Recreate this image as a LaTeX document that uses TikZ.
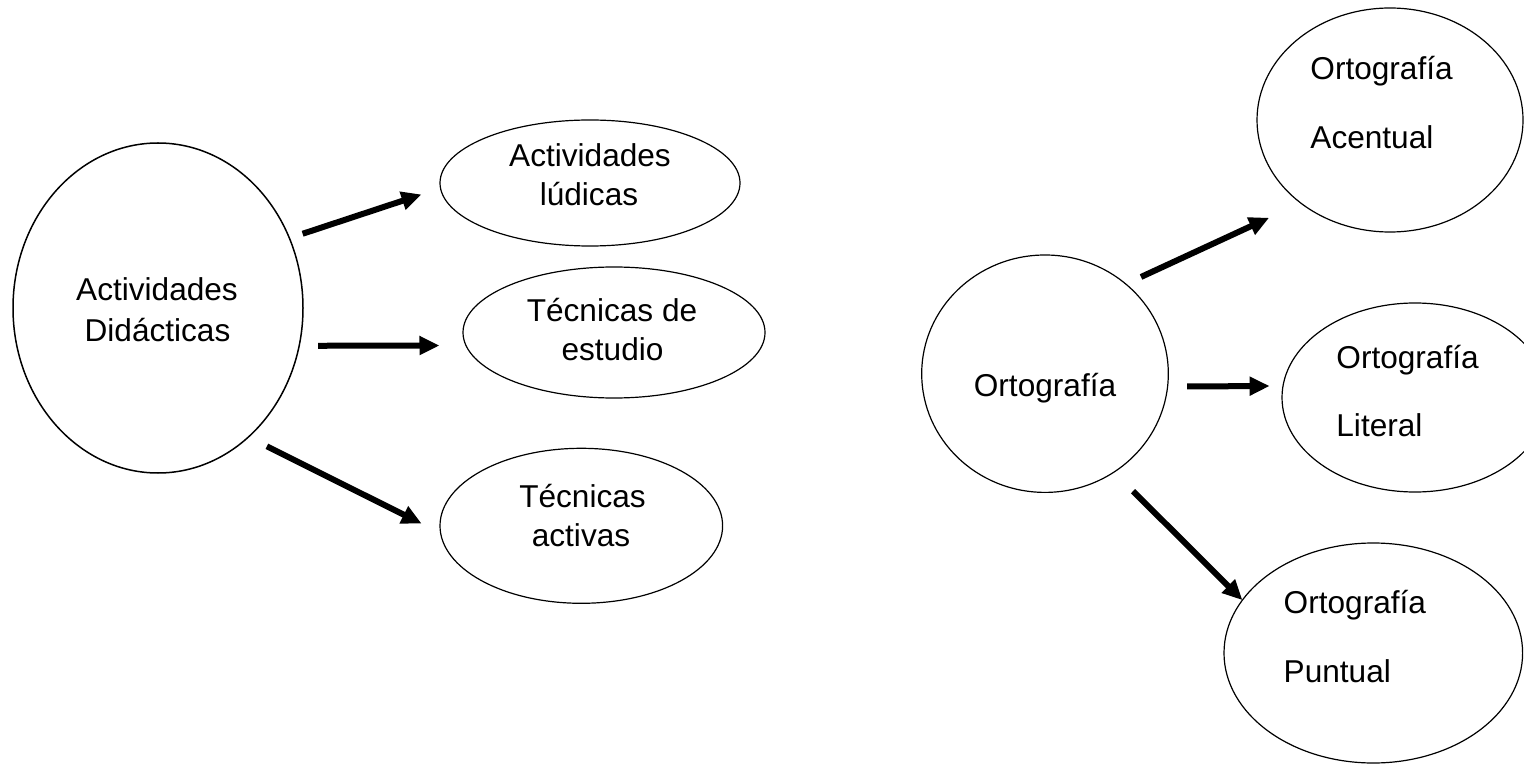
\documentclass[tikz,border=0pt]{standalone}
\usepackage{fontspec}
\setmainfont{Liberation Sans}
\usetikzlibrary{shapes.geometric,arrows.meta}
\begin{document}
\begin{tikzpicture}[x=0.5pt,y=-0.5pt,
  oval/.style={ellipse, draw, line width=0.6pt, inner sep=0pt, outer sep=0pt},
  lbl/.style={inner sep=0pt, font=\fontsize{15.8pt}{19pt}\selectfont},
  arr/.style={line width=3pt, -{Triangle[length=10pt,width=9pt]}}]
\fill[white] (0,0) rectangle (1524,764);
\useasboundingbox (0,0) rectangle (1524,764);

% left group
\node[oval, line width=0.75pt, minimum width=145pt, minimum height=165pt] (ad) at (158,308) {};
\node[oval, minimum width=150pt, minimum height=63pt] (lud) at (590,183) {};
\node[oval, minimum width=151pt, minimum height=65.5pt] (est) at (614,332.5) {};
\node[oval, minimum width=141.3pt, minimum height=77.5pt] (act) at (581.3,525.8) {};

\node[lbl, anchor=base] (t1a) at (157,300) {Actividades};
\node[lbl, anchor=base] (t1b) at (157.5,341.7) {Didácticas};
\node[lbl, anchor=base] (t2a) at (590,166.7) {Actividades};
\node[lbl, anchor=base] (t2b) at (589,206) {lúdicas};
\node[lbl, anchor=base] (t3a) at (612,321.7) {Técnicas de};
\node[lbl, anchor=base] (t3b) at (612.5,360) {estudio};
\node[lbl, anchor=base] (t4a) at (582.5,507.7) {Técnicas};
\node[lbl, anchor=base] (t4b) at (581,546.7) {activas};

\draw[arr, shorten <=7pt, shorten >=10pt] (ad.28.9) -- (lud.182.9);
\draw[arr, shorten <=9.5pt, shorten >=13.25pt] (ad.-15.5) -- (est.185.4);
\draw[arr, shorten <=10.35pt, shorten >=10.6pt] (ad.-55.9) -- (act.183.8);

% right group
\node[oval, minimum width=123.3pt, minimum height=118.7pt] (ort) at (1045,373.7) {};
\node[oval, minimum width=133pt, minimum height=112pt] (acen) at (1390,120) {};
\node[oval, minimum width=133pt, minimum height=94.5pt] (lit) at (1415,397.5) {};
\node[oval, minimum width=149.3pt, minimum height=110pt] (pun) at (1373.3,653) {};

\node[lbl, anchor=base] (t5) at (1045,396.7) {Ortografía};
\node[lbl, anchor=base west] (t6a) at (1310,80) {Ortografía};
\node[lbl, anchor=base west] (t6b) at (1310,148.3) {Acentual};
\node[lbl, anchor=base west] (t7a) at (1336,368.3) {Ortografía};
\node[lbl, anchor=base west] (t7b) at (1336,436.7) {Literal};
\node[lbl, anchor=base west] (t8a) at (1283.3,613.3) {Ortografía};
\node[lbl, anchor=base west] (t8b) at (1283.3,682.7) {Puntual};

\draw[arr, shorten <=8.4pt, shorten >=17.5pt] (ort.48) -- (acen.223.1);
\draw[arr, shorten <=9.8pt, shorten >=6.7pt] (ort.-6.66) -- (lit.175.9);
\draw[arr, shorten <=13.5pt] (ort.-55.6) -- (pun.158);
\end{tikzpicture}
\end{document}
